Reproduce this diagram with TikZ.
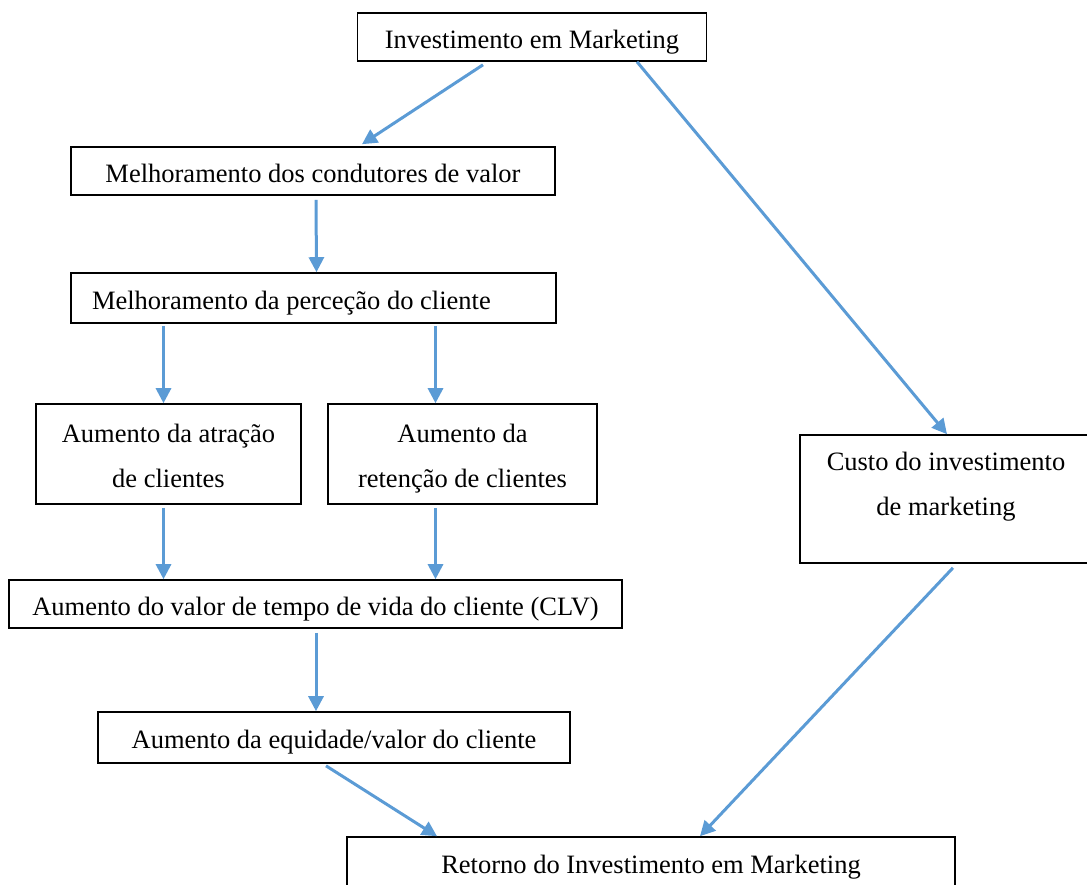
\documentclass[tikz,border=0pt]{standalone}
\usepackage{fontspec}
\setmainfont{Liberation Serif}
\usetikzlibrary{arrows.meta}
\definecolor{flowblue}{HTML}{5B9BD5}

\begin{document}
\begin{tikzpicture}[x=1pt, y=-1pt,
        box/.style={draw, line width=1.6pt, inner sep=0pt, align=center,
            font=\fontsize{26.5}{45}\selectfont, text height=22pt, text depth=0pt},
        twoline/.style={text height=67pt},
        flow/.style={color=flowblue, line width=3pt, -{Triangle[length=15pt,width=15pt]}}]
        \clip (0,0) rectangle (1087,884);

        % left chain
        \node[box, minimum width=349pt, minimum height=48pt] at (532,37) (inv) {Investimento em Marketing};
        \node[box, minimum width=484pt, minimum height=48pt] at (313,171) (cond) {Melhoramento dos condutores de valor};
        \node[box, minimum height=50pt, align=flush left, text width=443pt, inner xsep=21pt] at (313.5,298) (perc) {Melhoramento da perceção do cliente};
        \node[box, twoline, minimum width=265pt, minimum height=100pt] at (168.5,454) (atr) {Aumento da atração\\de clientes};
        \node[box, twoline, minimum width=269pt, minimum height=100pt] at (462.5,454) (retc) {Aumento da\\retenção de clientes};
        \node[box, minimum width=613pt, minimum height=48pt] at (315.5,604) (clv) {Aumento do valor de tempo de vida do cliente (CLV)};
        \node[box, minimum width=472pt, minimum height=51pt] at (334,737.5) (eq) {Aumento da equidade/valor do cliente};

        % right side
        \node[box, twoline, minimum width=292pt, minimum height=128pt, text depth=35pt] at (946,499) (cust) {Custo do investimento\\de marketing};
        \node[box, minimum width=608pt, minimum height=50pt] at (651,862) (roi) {Retorno do Investimento em Marketing};

        \draw[flow] ([xshift=-49pt,yshift=-3pt]inv.south) -- ([xshift=49pt,yshift=2pt]cond.north);
        \draw[flow] ([xshift=105pt]inv.south) -- ([xshift=1pt]cust.north);
        \draw[flow] ([xshift=3pt,yshift=-4pt]cond.south) -- ([xshift=3pt]perc.north);
        \draw[flow] ([xshift=-150pt,yshift=-2pt]perc.south) -- ([xshift=-5pt]atr.north);
        \draw[flow] ([xshift=122pt,yshift=-2pt]perc.south) -- ([xshift=-27pt]retc.north);
        \draw[flow] ([xshift=-5pt,yshift=-3pt]atr.south) -- ([xshift=-152pt]clv.north);
        \draw[flow] ([xshift=-27pt,yshift=-3pt]retc.south) -- ([xshift=120pt]clv.north);
        \draw[flow] ([xshift=0.5pt,yshift=-4pt]clv.south) -- ([xshift=-18pt]eq.north);
        \draw[flow] ([xshift=7pt,yshift=-4pt]cust.south) -- ([xshift=49pt]roi.north);
        \draw[flow] ([xshift=-8pt,yshift=-2pt]eq.south) -- ([xshift=-214pt]roi.north);
    \end{tikzpicture}
\end{document}
